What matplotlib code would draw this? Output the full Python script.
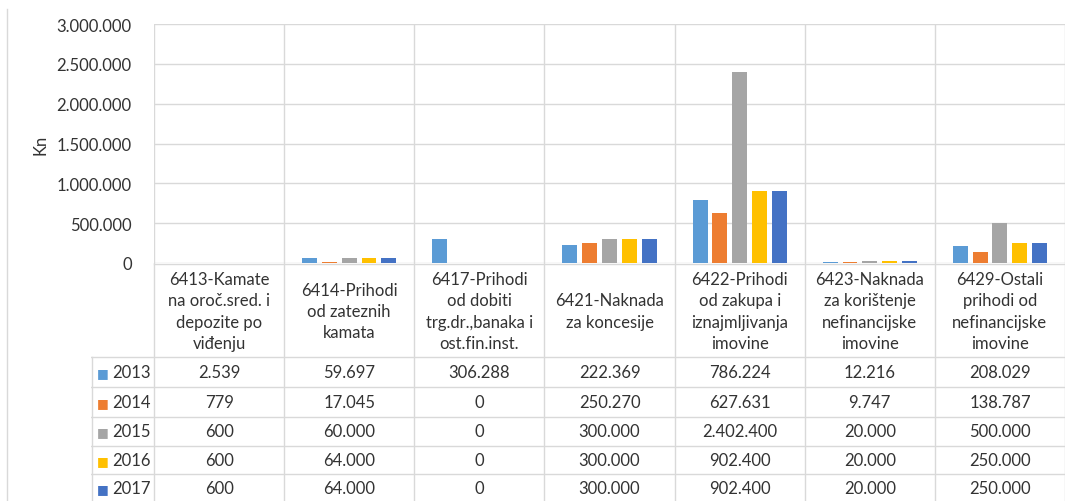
import numpy as np
import matplotlib
matplotlib.use("Agg")
import matplotlib.pyplot as plt
from matplotlib.lines import Line2D
from matplotlib.ticker import FuncFormatter, MultipleLocator

plt.rcParams['font.family'] = ['Lato', 'DejaVu Sans']

# prihodi po kontima, u kunama
konta = ["6413-Kamate\nna oroč.sred. i\ndepozite po\nviđenju",
         "6414-Prihodi\nod zateznih\nkamata",
         "6417-Prihodi\nod dobiti\ntrg.dr.,banaka i\nost.fin.inst.",
         "6421-Naknada\nza koncesije",
         "6422-Prihodi\nod zakupa i\niznajmljivanja\nimovine",
         "6423-Naknada\nza korištenje\nnefinancijske\nimovine",
         "6429-Ostali\nprihodi od\nnefinancijske\nimovine"]
godine = ["2013", "2014", "2015", "2016", "2017"]
v2013 = [2539, 59697, 306288, 222369, 786224, 12216, 208029]
v2014 = [779, 17045, 0, 250270, 627631, 9747, 138787]
v2015 = [600, 60000, 0, 300000, 2402400, 20000, 500000]
v2016 = [600, 64000, 0, 300000, 902400, 20000, 250000]
v2017 = [600, 64000, 0, 300000, 902400, 20000, 250000]
serije = [v2013, v2014, v2015, v2016, v2017]
boje = ["#5B9BD5", "#ED7D31", "#A5A5A5", "#FFC000", "#4472C4"]

GRID = "#d9d9d9"
TXT = "#333333"
FS = 12
W, H = 1069, 502


def hr_broj(x):
    return "{:,.0f}".format(x).replace(",", ".")


fig = plt.figure(figsize=(W / 100, H / 100), dpi=100)

# graf
x0, x1, ytop, yzero = 154, 1065, 25, 264
ax = fig.add_axes([x0 / W, 1 - yzero / H, (x1 - x0) / W, (yzero - ytop) / H])
n = len(konta)
x = np.arange(n)
korak, sirina = 0.152, 0.115
for i, (vals, c) in enumerate(zip(serije, boje)):
    ax.bar(x + (i - 2) * korak, vals, sirina, color=c, zorder=3)
ax.set_xlim(-0.5, n - 0.5)
ax.set_ylim(0, 3000000)
ax.yaxis.set_major_locator(MultipleLocator(500000))
ax.yaxis.set_major_formatter(FuncFormatter(lambda v, p: hr_broj(v)))
ax.grid(axis='y', color=GRID, linewidth=1, zorder=0)
for b in np.arange(-0.5, n, 1.0):
    ax.axvline(b, color=GRID, linewidth=1, zorder=0)
for s in ax.spines.values():
    s.set_visible(False)
ax.set_xticks([])
ax.tick_params(axis='y', length=0, pad=16, labelsize=FS, labelcolor=TXT)
ax.set_ylabel("Kn", fontsize=FS, color=TXT, labelpad=6)

# tablica s podacima
tx0 = 91
px = (x1 - x0) / n
tab = fig.add_axes([tx0 / W, 0, (x1 - tx0) / W, (H - yzero) / H])
tab.set_xlim(-0.5 - (x0 - tx0) / px, n - 0.5)
tab.set_ylim(H, yzero)
tab.axis('off')

hdr = 358
redovi = [358, 388, 418, 447, 475, 503]
lw = dict(color=GRID, linewidth=1)
for b in np.arange(-0.5, n, 1.0):
    tab.add_line(Line2D([b, b], [yzero, H], **lw))
lijevo = tab.get_xlim()[0]
tab.add_line(Line2D([lijevo + 0.005, lijevo + 0.005], [hdr, H], **lw))
for r in redovi[:-1]:
    tab.add_line(Line2D([lijevo, n - 0.5], [r, r], **lw))
tab.add_line(Line2D([-0.5, n - 0.5], [yzero + 0.5, yzero + 0.5], **lw))

for j, k in enumerate(konta):
    tab.text(j, (yzero + hdr) / 2 + 1, k, ha='center', va='center',
             fontsize=FS, color=TXT, linespacing=1.4)

for i, (g, vals, c) in enumerate(zip(godine, serije, boje)):
    yc = (redovi[i] + redovi[i + 1]) / 2
    tab.text(lijevo + 0.045, yc, "\u25A0", ha='left', va='center',
             fontsize=9, color=c)
    tab.text(lijevo + 0.16, yc, g, ha='left', va='center',
             fontsize=FS, color=TXT)
    for j, v in enumerate(vals):
        tab.text(j, yc, hr_broj(v), ha='center', va='center',
                 fontsize=FS, color=TXT)

# okvir grafikona s lijeve strane
fig.add_artist(Line2D([7 / W, 7 / W], [0, 1 - 10 / H], color=GRID,
                      linewidth=1, transform=fig.transFigure))

fig.savefig("out.png", dpi=100)
